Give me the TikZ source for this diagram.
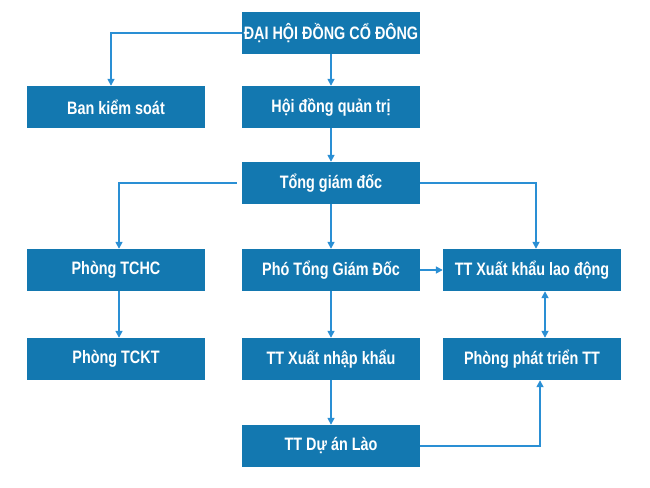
\documentclass[tikz,border=0pt]{standalone}
\usepackage{fontspec}
\setmainfont{Liberation Sans}[FakeStretch=0.80]
\usepackage{tikz}
\usetikzlibrary{positioning,arrows.meta}

\definecolor{boxblue}{HTML}{1378B0}
\definecolor{lineblue}{HTML}{2A8FD4}

\begin{document}
\begin{tikzpicture}[x=1pt,y=1pt,on grid,node distance=74pt,
    unit/.style={rectangle, fill=boxblue, text=white, inner sep=0pt,
        minimum width=178pt, minimum height=42pt,
        font=\bfseries\fontsize{18}{21}\selectfont},
    link/.style={-{Triangle[length=7pt,width=7pt]}, draw=lineblue, line width=1.6pt},
    both/.style={{Triangle[length=7pt,width=7pt]}-{Triangle[length=7pt,width=7pt]}, draw=lineblue, line width=1.6pt}]
    \useasboundingbox (0,0) rectangle (650,-487);

    \node[unit] (dhdcd) at (331,-33) {ĐẠI HỘI ĐỒNG CỔ ĐÔNG};
    \node[unit] (bks) [below left=74pt and 215pt of dhdcd] {Ban kiểm soát};
    \node[unit] (hdqt) [below=of dhdcd] {Hội đồng quản trị};
    \node[unit] (tgd) [below=76pt of hdqt] {Tổng giám đốc};
    \node[unit] (pho) [below=87pt of tgd] {Phó Tổng Giám Đốc};
    \node[unit] (tchc) [left=215pt of pho] {Phòng TCHC};
    \node[unit] (xkld) [right=201pt of pho] {TT Xuất khẩu lao động};
    \node[unit] (tckt) [below=89pt of tchc] {Phòng TCKT};
    \node[unit] (xnk) [below=89pt of pho] {TT Xuất nhập khẩu};
    \node[unit] (pttt) [below=89pt of xkld] {Phòng phát triển TT};
    \node[unit] (lao) [below=87pt of xnk] {TT Dự án Lào};

    % top levels
    \draw[link] (dhdcd.west) -| ([xshift=-5pt]bks.north);
    \draw[link] (dhdcd) -- (hdqt);
    \draw[link] (hdqt) -- (tgd);
    % board of directors
    \draw[link] ([xshift=-5pt]tgd.west) -| ([xshift=3pt]tchc.north);
    \draw[link] (tgd.east) -| ([xshift=4pt]xkld.north);
    \draw[link] (tgd) -- (pho);
    \draw[link] (pho) -- (xkld);
    \draw[link] ([xshift=3pt]tchc.south) -- ([xshift=3pt]tckt.north);
    \draw[link] (pho) -- (xnk);
    \draw[link] (xnk) -- (lao);
    \draw[both] ([xshift=13pt]xkld.south) -- ([xshift=13pt]pttt.north);
    \draw[link] (lao.east) -| ([xshift=8pt]pttt.south);
\end{tikzpicture}
\end{document}
